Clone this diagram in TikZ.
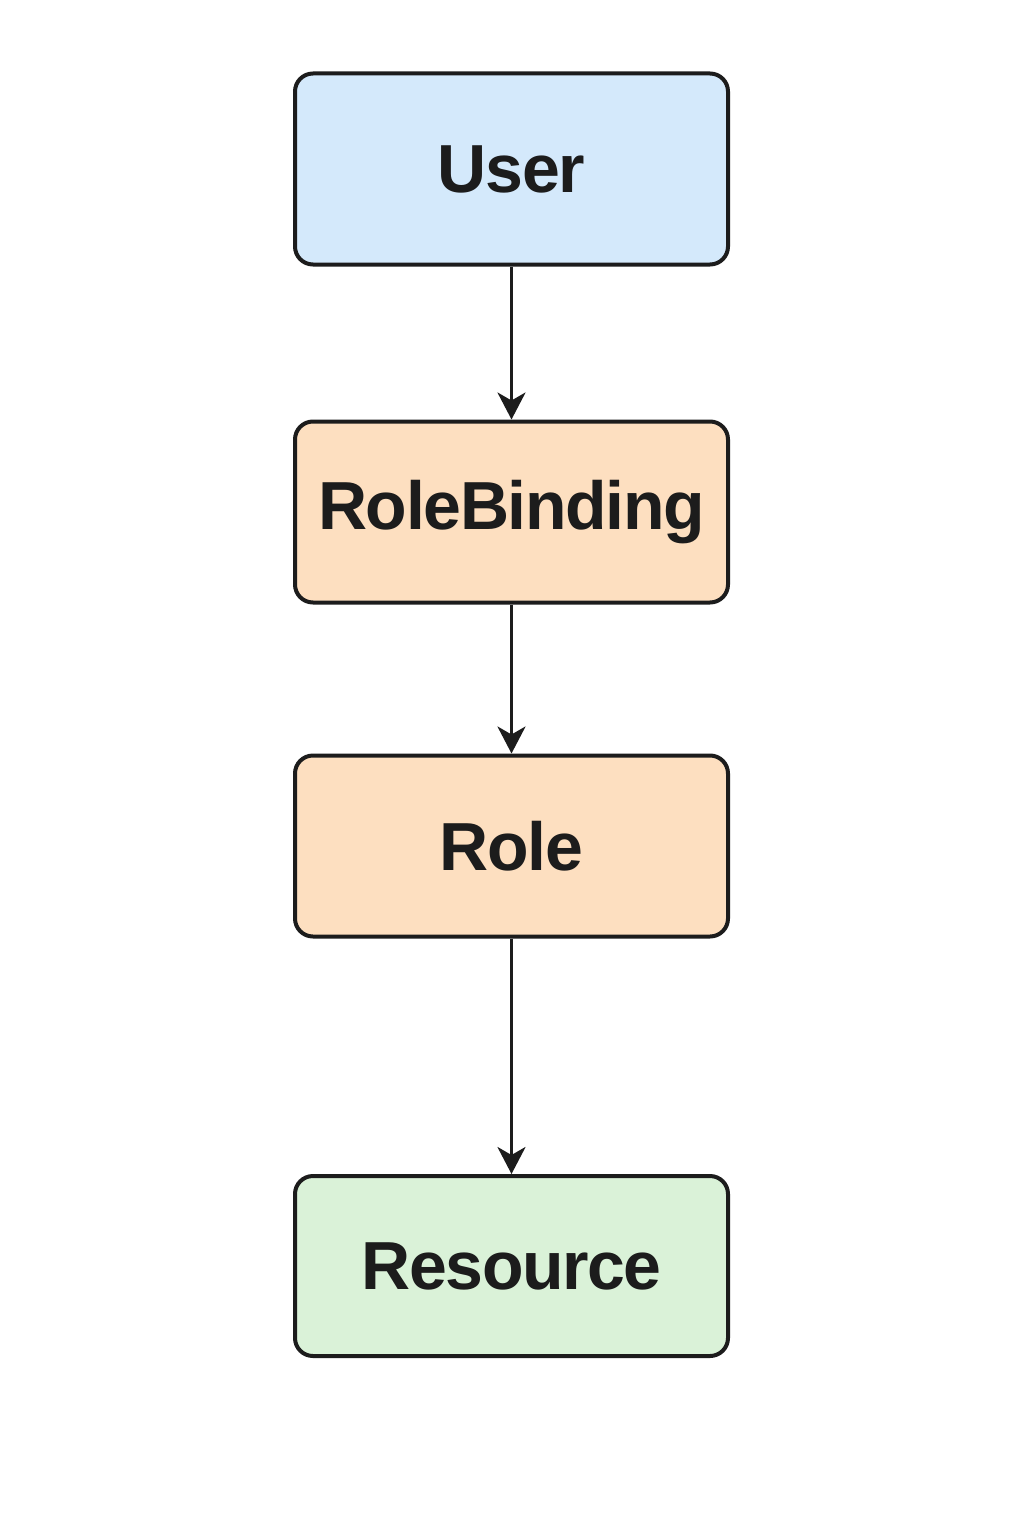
\documentclass[tikz,border=0pt]{standalone}
\usepackage{fontspec}
\setmainfont{Liberation Sans}
\usetikzlibrary{arrows.meta}
\definecolor{userfill}{HTML}{D4E9FB}
\definecolor{rolefill}{HTML}{FDDFC0}
\definecolor{resfill}{HTML}{DAF2D8}
\definecolor{ink}{HTML}{1C1C1C}
\begin{document}
\begin{tikzpicture}[x=1pt,y=-1pt,
  box/.style={draw=ink, line width=4pt, rounded corners=18pt,
    minimum width=433pt, inner sep=0pt, text=ink,
    font=\fontsize{68}{68}\selectfont\bfseries\addfontfeatures{LetterSpace=-2}},
  link/.style={draw=ink, line width=3.3pt,
    -{Stealth[length=27pt, width=28pt, inset=8pt]}}]
  \useasboundingbox (0,0) rectangle (1024,1536);
  \fill[white] (0,0) rectangle (1024,1536);
  \node[box, fill=userfill, minimum height=191pt] (user) at (511.5,169) {User};
  \node[box, fill=rolefill, minimum height=181pt] (binding) at (511.5,512) {RoleBinding};
  \node[box, fill=rolefill, minimum height=181pt] (role) at (511.5,846) {Role};
  \node[box, fill=resfill, minimum height=180pt] (resource) at (511.5,1266) {Resource};
  \draw[link] (user.south) -- (binding.north);
  \draw[link] (binding.south) -- (role.north);
  \draw[link] (role.south) -- (resource.north);
\end{tikzpicture}
\end{document}
